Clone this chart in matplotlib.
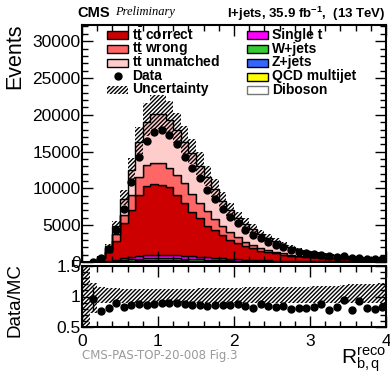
import numpy as np
import matplotlib
matplotlib.use('Agg')
import matplotlib.pyplot as plt
from matplotlib.patches import Rectangle
from matplotlib.lines import Line2D
from matplotlib.ticker import MultipleLocator

plt.rcParams['font.family'] = ['Liberation Sans', 'DejaVu Sans']
plt.rcParams['mathtext.fontset'] = 'custom'
plt.rcParams['mathtext.rm'] = 'Liberation Sans'
plt.rcParams['mathtext.it'] = 'Liberation Sans:italic'
plt.rcParams['mathtext.bf'] = 'Liberation Sans:bold'
plt.rcParams['hatch.linewidth'] = 1.0

# 40 bins of R_bq^reco between 0 and 4
edges = np.round(np.arange(41) * 0.1, 1)

data = np.array([0, 25, 500, 1770, 4350, 7160, 10900, 14250, 16500, 17700,
                 17940, 17260, 15990, 14310, 12730, 11350, 9800, 8500, 7200, 6050,
                 5250, 4350, 3620, 3300, 2760, 2330, 1990, 1620, 1360, 1160,
                 1040, 980, 770, 740, 750, 565, 600, 475, 425, 400])

tt_correct = np.array([0, 14, 440, 1270, 2590, 4740, 6370, 8260, 9400, 9630,
                       9500, 9210, 8200, 7140, 6080, 5230, 4330, 3750, 3160, 2570,
                       2250, 1840, 1570, 1290, 1100, 985, 830, 710, 640, 585,
                       540, 490, 450, 410, 375, 345, 320, 295, 270, 255])
tt_wrong = np.array([0, 4, 100, 520, 860, 1130, 2030, 2400, 2850, 2900,
                     2980, 2580, 2720, 2730, 2460, 2070, 1950, 1500, 1250, 1050,
                     820, 610, 460, 340, 250, 190, 170, 140, 110, 100,
                     90, 80, 70, 70, 60, 60, 50, 50, 50, 40])
tt_unmatched = np.array([3, 4, 80, 250, 1130, 2210, 3450, 4750, 5890, 6610,
                         6660, 6620, 6120, 5650, 5470, 5100, 4600, 4050, 3450, 2950,
                         2550, 2420, 2130, 1870, 1690, 1430, 1170, 1040, 800, 640,
                         520, 450, 390, 340, 300, 260, 230, 200, 175, 155])
single_t = np.array([0, 2, 20, 60, 150, 250, 330, 390, 430, 450,
                     450, 440, 420, 390, 360, 330, 290, 260, 230, 200,
                     175, 155, 135, 118, 102, 90, 78, 68, 60, 52,
                     46, 40, 36, 32, 28, 25, 22, 20, 18, 16])
wjets = np.array([0, 1, 10, 35, 80, 140, 190, 230, 250, 260,
                  260, 250, 240, 225, 205, 185, 165, 148, 130, 115,
                  100, 88, 78, 68, 60, 52, 46, 40, 35, 31,
                  27, 24, 21, 19, 17, 15, 13, 12, 11, 10])
zjets = np.array([0, 0, 2, 6, 14, 22, 30, 36, 40, 42,
                  42, 40, 38, 36, 33, 30, 27, 24, 21, 19,
                  17, 15, 13, 11, 10, 9, 8, 7, 6, 5,
                  5, 4, 4, 3, 3, 3, 2, 2, 2, 2])
qcd = np.array([0, 1, 8, 25, 60, 100, 140, 170, 190, 200,
                200, 195, 185, 170, 155, 140, 125, 112, 100, 88,
                78, 68, 60, 53, 47, 41, 36, 32, 28, 25,
                22, 20, 18, 16, 14, 12, 11, 10, 9, 8])
diboson = np.array([0, 0, 1, 3, 6, 9, 12, 14, 15, 16,
                    16, 15, 14, 13, 12, 11, 10, 9, 8, 7,
                    6, 5, 5, 4, 4, 3, 3, 3, 2, 2,
                    2, 2, 2, 1, 1, 1, 1, 1, 1, 1])

# relative MC uncertainty (up / down)
unc_up = np.array([1.00, 0.22, 0.15, 0.14, 0.14, 0.13, 0.13, 0.13, 0.13, 0.13,
                   0.13, 0.13, 0.13, 0.13, 0.13, 0.14, 0.14, 0.14, 0.14, 0.14,
                   0.14, 0.15, 0.15, 0.15, 0.15, 0.15, 0.16, 0.16, 0.16, 0.16,
                   0.17, 0.17, 0.18, 0.18, 0.19, 0.20, 0.20, 0.21, 0.21, 0.22])
unc_dn = np.array([1.00, 0.27, 0.11, 0.10, 0.10, 0.10, 0.10, 0.10, 0.10, 0.10,
                   0.10, 0.10, 0.10, 0.10, 0.10, 0.10, 0.10, 0.10, 0.10, 0.10,
                   0.10, 0.10, 0.10, 0.10, 0.10, 0.10, 0.10, 0.10, 0.10, 0.10,
                   0.11, 0.11, 0.11, 0.11, 0.11, 0.11, 0.11, 0.11, 0.11, 0.11])

stack = [  # bottom to top
    (diboson, 'white', 'Diboson'),
    (qcd, '#ffff00', 'QCD multijet'),
    (zjets, '#3366ff', 'Z+jets'),
    (wjets, '#33cc33', 'W+jets'),
    (single_t, '#ff00ff', 'Single t'),
    (tt_correct, '#cc0000', r't$\bar{\mathbf{t}}$ correct'),
    (tt_wrong, '#ff6666', r't$\bar{\mathbf{t}}$ wrong'),
    (tt_unmatched, '#ffcccc', r't$\bar{\mathbf{t}}$ unmatched'),
]
HATCH = '////////'

W, H = 390, 375
fig = plt.figure(figsize=(W / 100, H / 100), dpi=100)
ax = fig.add_axes([82 / W, 1 - 262 / H, 304 / W, 237 / H])
rax = fig.add_axes([82 / W, 1 - 327 / H, 304 / W, 61 / H])

centers = 0.5 * (edges[:-1] + edges[1:])
bottom = np.zeros(len(data))
for vals, color, _ in stack:
    top = bottom + vals
    ax.stairs(top, edges, baseline=bottom, fill=True, facecolor=color,
              edgecolor='black', linewidth=1.0)
    bottom = top
total = bottom

ax.stairs(total * (1 + unc_up), edges, baseline=total * (1 - unc_dn), fill=True,
          facecolor='none', edgecolor='black', hatch=HATCH, linewidth=0)

has = data > 0
ax.errorbar(centers[has], data[has], yerr=np.sqrt(data[has]), fmt='o', color='black',
            ms=5, elinewidth=1, capsize=0, zorder=5)

# ratio panel
ratio = data / total
ratio_err = np.sqrt(data) / total
rax.stairs(1 + unc_up, edges, baseline=1 - unc_dn, fill=True, facecolor='none',
           edgecolor='black', hatch=HATCH, linewidth=0)
rax.errorbar(centers[has], ratio[has], yerr=ratio_err[has], fmt='o', color='black',
             ms=5, elinewidth=1, capsize=0, zorder=5)

ax.set_xlim(0, 4)
ax.set_ylim(0, 32200)
rax.set_xlim(0, 4)
rax.set_ylim(0.5, 1.5)

for a in (ax, rax):
    a.xaxis.set_major_locator(MultipleLocator(1))
    a.xaxis.set_minor_locator(MultipleLocator(0.2))
    a.tick_params(which='both', direction='in', top=True, right=True, width=1,
                  labelsize=12.5, pad=2)
    a.tick_params(which='major', length=8)
    a.tick_params(which='minor', length=4)
    for s in a.spines.values():
        s.set_linewidth(1.5)

ax.yaxis.set_major_locator(MultipleLocator(5000))
ax.yaxis.set_minor_locator(MultipleLocator(1000))
ax.tick_params(axis='x', labelbottom=False)
ax.tick_params(axis='y', pad=1)
rax.set_yticks([0.5, 1, 1.5])
rax.set_yticklabels(['0.5', '1', '1.5'])
rax.yaxis.set_minor_locator(MultipleLocator(0.1))
rax.tick_params(axis='y', pad=1)
rax.tick_params(axis='x', pad=5)

fig.text(15 / W, 1 - 56 / H, 'Events', rotation=90, ha='center', va='center', fontsize=15.5)
fig.text(15 / W, 1 - 300 / H, 'Data/MC', rotation=90, ha='center', va='center', fontsize=13.5)
fig.text(386 / W, 1 - 360 / H, r'R$^{\rm reco}_{\rm b,q}$', ha='right', va='center', fontsize=15)

fig.text(77 / W, 1 - 13 / H, 'CMS', fontweight='bold', fontsize=10.5, ha='left', va='center')
fig.text(115 / W, 1 - 12 / H, 'Preliminary', fontstyle='italic', family='Liberation Serif',
         fontsize=9, ha='left', va='center')
fig.text(386 / W, 1 - 14 / H, r'l+jets, 35.9 fb$^{\mathbf{-1}}$,  (13 TeV)',
         fontweight='bold', fontsize=9.5, ha='right', va='center')
fig.text(82 / W, 1 - 356 / H, 'CMS-PAS-TOP-20-008 Fig.3', color='#9a9a9a',
         family='DejaVu Sans', fontsize=8.5, ha='left', va='center')

# legend, two columns drawn in figure pixels
left_rows = [35, 49, 62.5, 76, 90]
right_rows = [35, 49, 62.5, 76.5, 90]
left_entries = [stack[5], stack[6], stack[7], 'data', 'unc']
right_entries = [stack[4], stack[3], stack[2], stack[1], stack[0]]


def legend_box(x0, y, entry):
    if entry == 'data':
        fig.add_artist(Line2D([(x0 + 10.5) / W], [1 - y / H], marker='o', color='black',
                              ms=5, transform=fig.transFigure))
        label = 'Data'
    elif entry == 'unc':
        fig.add_artist(Rectangle((x0 / W, 1 - (y + 4) / H), 21 / W, 8 / H,
                                 transform=fig.transFigure, facecolor='none',
                                 edgecolor='black', hatch=HATCH, linewidth=0))
        label = 'Uncertainty'
    else:
        _, color, label = entry
        edge = '#777777' if color == 'white' else 'black'
        fig.add_artist(Rectangle((x0 / W, 1 - (y + 4) / H), 21 / W, 8 / H,
                                 transform=fig.transFigure, facecolor=color,
                                 edgecolor=edge, linewidth=1))
    fig.text((x0 + 25) / W, 1 - (y - 0.5) / H, label, fontweight='bold', fontsize=10,
             ha='left', va='center')


for y, e in zip(left_rows, left_entries):
    legend_box(107, y, e)
for y, e in zip(right_rows, right_entries):
    legend_box(247, y, e)

fig.savefig('out.png', dpi=100)
